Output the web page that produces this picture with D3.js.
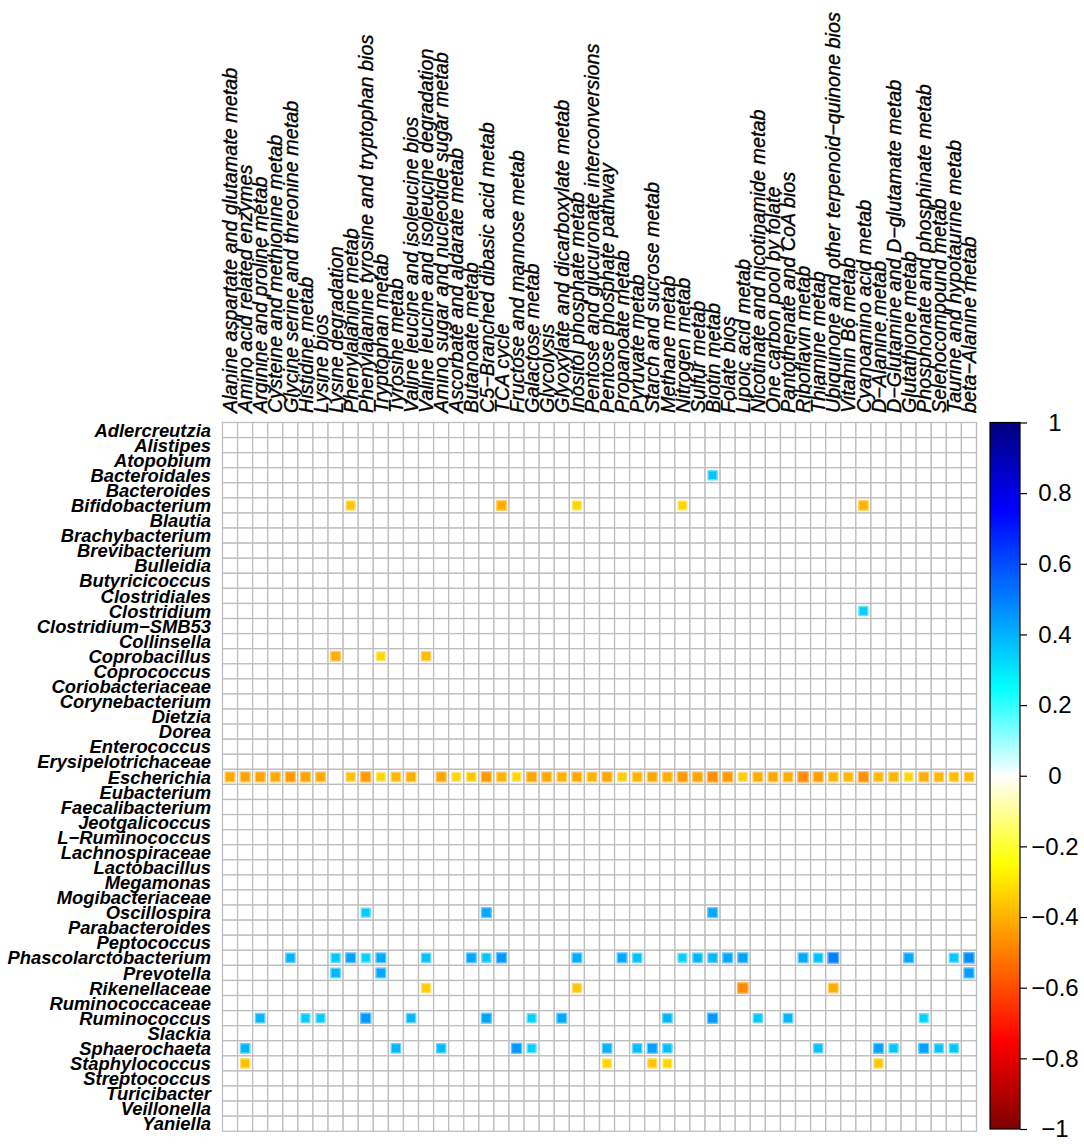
<!DOCTYPE html>
<html>
<head>
<meta charset="utf-8">
<script src="https://cdn.jsdelivr.net/npm/d3@7"></script>
<style>
html,body{margin:0;padding:0;background:#fff;}
svg{display:block;}
</style>
</head>
<body>
<svg id="chart" width="1084" height="1144"></svg>
<script>
// ---------- data ----------
const pathways = [
  "Alanine aspartate and glutamate metab","Amino acid related enzymes","Arginine and proline metab",
  "Cysteine and methionine metab","Glycine serine and threonine metab","Histidine metab","Lysine bios",
  "Lysine degradation","Phenylalanine metab","Phenylalanine tyrosine and tryptophan bios","Tryptophan metab",
  "Tyrosine metab","Valine leucine and isoleucine bios","Valine leucine and isoleucine degradation",
  "Amino sugar and nucleotide sugar metab","Ascorbate and aldarate metab","Butanoate metab",
  "C5\u2212Branched dibasic acid metab","TCA cycle","Fructose and mannose metab","Galactose metab","Glycolysis",
  "Glyoxylate and dicarboxylate metab","Inositol phosphate metab","Pentose and glucuronate interconversions",
  "Pentose phosphate pathway","Propanoate metab","Pyruvate metab","Starch and sucrose metab","Methane metab",
  "Nitrogen metab","Sulfur metab","Biotin metab","Folate bios","Lipoic acid metab",
  "Nicotinate and nicotinamide metab","One carbon pool by folate","Pantothenate and CoA bios","Riboflavin metab",
  "Thiamine metab","Ubiquinone and other terpenoid\u2212quinone bios","Vitamin B6 metab","Cyanoamino acid metab",
  "D\u2212Alanine metab","D\u2212Glutamine and D\u2212glutamate metab","Glutathione metab",
  "Phosphonate and phosphinate metab","Selenocompound metab","Taurine and hypotaurine metab","beta\u2212Alanine metab"
];
const taxa = [
  "Adlercreutzia","Alistipes","Atopobium","Bacteroidales","Bacteroides","Bifidobacterium","Blautia",
  "Brachybacterium","Brevibacterium","Bulleidia","Butyricicoccus","Clostridiales","Clostridium",
  "Clostridium\u2212SMB53","Collinsella","Coprobacillus","Coprococcus","Coriobacteriaceae","Corynebacterium",
  "Dietzia","Dorea","Enterococcus","Erysipelotrichaceae","Escherichia","Eubacterium","Faecalibacterium",
  "Jeotgalicoccus","L\u2212Ruminococcus","Lachnospiraceae","Lactobacillus","Megamonas","Mogibacteriaceae",
  "Oscillospira","Parabacteroides","Peptococcus","Phascolarctobacterium","Prevotella","Rikenellaceae",
  "Ruminococcaceae","Ruminococcus","Slackia","Sphaerochaeta","Staphylococcus","Streptococcus",
  "Turicibacter","Veillonella","Yaniella"
];
// correlation values per pathway (same order as pathways); null = not significant
const escherichia = [
  -0.42,-0.43,-0.43,-0.42,-0.45,-0.43,-0.42,null,-0.37,-0.45,-0.33,-0.39,-0.41,null,-0.43,-0.33,-0.36,
  -0.45,-0.40,-0.33,-0.43,-0.42,-0.40,-0.42,-0.40,-0.43,-0.35,-0.40,-0.42,-0.41,-0.45,-0.43,-0.47,-0.45,
  -0.35,-0.41,-0.42,-0.41,-0.48,-0.44,-0.40,-0.39,-0.47,-0.39,-0.40,-0.33,-0.41,-0.39,-0.38,-0.38
];
// sparse rows: [pathway index, correlation]
const bacteroidales = [[32,0.36]];
const bifidobacterium = [[8,-0.36],[18,-0.41],[23,-0.33],[30,-0.33],[42,-0.40]];
const clostridium = [[42,0.35]];
const coprobacillus = [[7,-0.41],[10,-0.33],[13,-0.38]];
const oscillospira = [[9,0.35],[17,0.42],[32,0.42]];
const phascolarctobacterium = [[4,0.39],[7,0.36],[8,0.43],[9,0.34],[10,0.42],[13,0.37],[16,0.42],[17,0.36],
  [18,0.45],[23,0.41],[26,0.42],[27,0.37],[30,0.34],[31,0.39],[32,0.39],[33,0.42],[34,0.43],[38,0.42],
  [39,0.37],[40,0.50],[45,0.42],[48,0.36],[49,0.47]];
const prevotella = [[7,0.39],[10,0.42],[49,0.44]];
const rikenellaceae = [[13,-0.35],[23,-0.36],[34,-0.48],[40,-0.41]];
const ruminococcus = [[2,0.39],[5,0.35],[6,0.35],[9,0.45],[12,0.38],[17,0.43],[20,0.34],[22,0.42],[29,0.39],
  [32,0.45],[35,0.36],[37,0.39],[46,0.34]];
const sphaerochaeta = [[1,0.39],[11,0.39],[14,0.38],[19,0.45],[20,0.34],[25,0.40],[27,0.38],[28,0.43],[29,0.37],
  [39,0.37],[43,0.43],[44,0.36],[46,0.43],[47,0.36],[48,0.36]];
const staphylococcus = [[1,-0.37],[25,-0.33],[28,-0.36],[29,-0.33],[43,-0.36]];
const legendTicks = [1,0.8,0.6,0.4,0.2,0,-0.2,-0.4,-0.6,-0.8,-1];
const palette = ["#7F0000","red","#FF7F00","yellow","white","cyan","#007FFF","blue","#00007F"];

// ---------- build cell table ----------
const cells = [];
escherichia.forEach((v,i)=>{ if(v!==null) cells.push({taxon:"Escherichia", path:pathways[i], r:v}); });
const sparseRows = [
  ["Bacteroidales",bacteroidales],["Bifidobacterium",bifidobacterium],["Clostridium",clostridium],
  ["Coprobacillus",coprobacillus],["Oscillospira",oscillospira],["Phascolarctobacterium",phascolarctobacterium],
  ["Prevotella",prevotella],["Rikenellaceae",rikenellaceae],["Ruminococcus",ruminococcus],
  ["Sphaerochaeta",sphaerochaeta],["Staphylococcus",staphylococcus]
];
sparseRows.forEach(([t,arr])=>arr.forEach(([i,v])=>cells.push({taxon:t, path:pathways[i], r:v})));

// ---------- layout ----------
const gx0 = 222.5, gy0 = 422.5, cs = 15.08;
const x = d3.scaleBand().domain(pathways).range([gx0, gx0 + cs*pathways.length]).padding(0);
const y = d3.scaleBand().domain(taxa).range([gy0, gy0 + cs*taxa.length]).padding(0);
const color = d3.scaleLinear().domain(d3.range(9).map(i=>-1+i*0.25)).range(palette);

const svg = d3.select("#chart");
const font = "'Liberation Sans', Arial, Helvetica, sans-serif";

// grid
const grid = svg.append("g");
taxa.forEach(t=>{
  pathways.forEach(p=>{
    grid.append("rect")
      .attr("x", x(p)).attr("y", y(t))
      .attr("width", x.bandwidth()).attr("height", y.bandwidth())
      .attr("fill","white").attr("stroke","#BEBEBE").attr("stroke-width",1.3);
  });
});

// squares
const side = d => Math.sqrt(Math.abs(d.r))*x.bandwidth();
svg.append("g").selectAll("rect").data(cells).join("rect")
  .attr("x", d => x(d.path) + x.bandwidth()/2 - side(d)/2)
  .attr("y", d => y(d.taxon) + y.bandwidth()/2 - side(d)/2)
  .attr("width", side)
  .attr("height", side)
  .attr("fill", d => color(d.r))
  .attr("stroke", d => d3.interpolateRgb(color(d.r), "white")(0.4))
  .attr("stroke-width", 1.4);

// column labels
svg.append("g").selectAll("text").data(pathways).join("text")
  .attr("transform", d => `translate(${x(d)+x.bandwidth()/2},413) rotate(-90)`)
  .attr("dy","0.36em")
  .attr("text-anchor","start")
  .attr("font-family", font).attr("font-style","italic").attr("font-size", 19.8)
  .attr("fill","black").attr("stroke","black").attr("stroke-width",0.35)
  .text(d=>d);

// row labels
svg.append("g").selectAll("text").data(taxa).join("text")
  .attr("x", 211).attr("y", d => y(d)+y.bandwidth()/2)
  .attr("dy","0.36em")
  .attr("text-anchor","end")
  .attr("font-family", font).attr("font-style","italic").attr("font-weight","bold").attr("font-size", 18.4)
  .attr("fill","black")
  .text(d=>d);

// color legend
const lx = 990, lw = 30, ly0 = 422.5, ly1 = 1129;
const ly = d3.scaleLinear().domain([1,-1]).range([ly0, ly1]);
const defs = svg.append("defs");
const grad = defs.append("linearGradient").attr("id","cbar").attr("x1",0).attr("y1",1).attr("x2",0).attr("y2",0);
color.domain().forEach((v,i)=>{
  grad.append("stop").attr("offset", (v+1)/2).attr("stop-color", palette[i]);
});
svg.append("rect").attr("x",lx).attr("y",ly0).attr("width",lw).attr("height",ly1-ly0)
  .attr("fill","url(#cbar)").attr("stroke","black").attr("stroke-width",1.2);
const axis = d3.axisRight(ly).tickValues(legendTicks).tickSize(7).tickPadding(0).tickFormat(d=>d3.format("")(d).replace("-","\u2212"));
const ag = svg.append("g").attr("transform",`translate(${lx+lw},0)`).call(axis);
ag.select(".domain").remove();
ag.selectAll(".tick line").attr("stroke","black").attr("stroke-width",1.2);
ag.selectAll(".tick text")
  .attr("x", 35).attr("text-anchor","middle")
  .attr("font-family", font).attr("font-size", 24).attr("fill","black");
</script>
</body>
</html>
